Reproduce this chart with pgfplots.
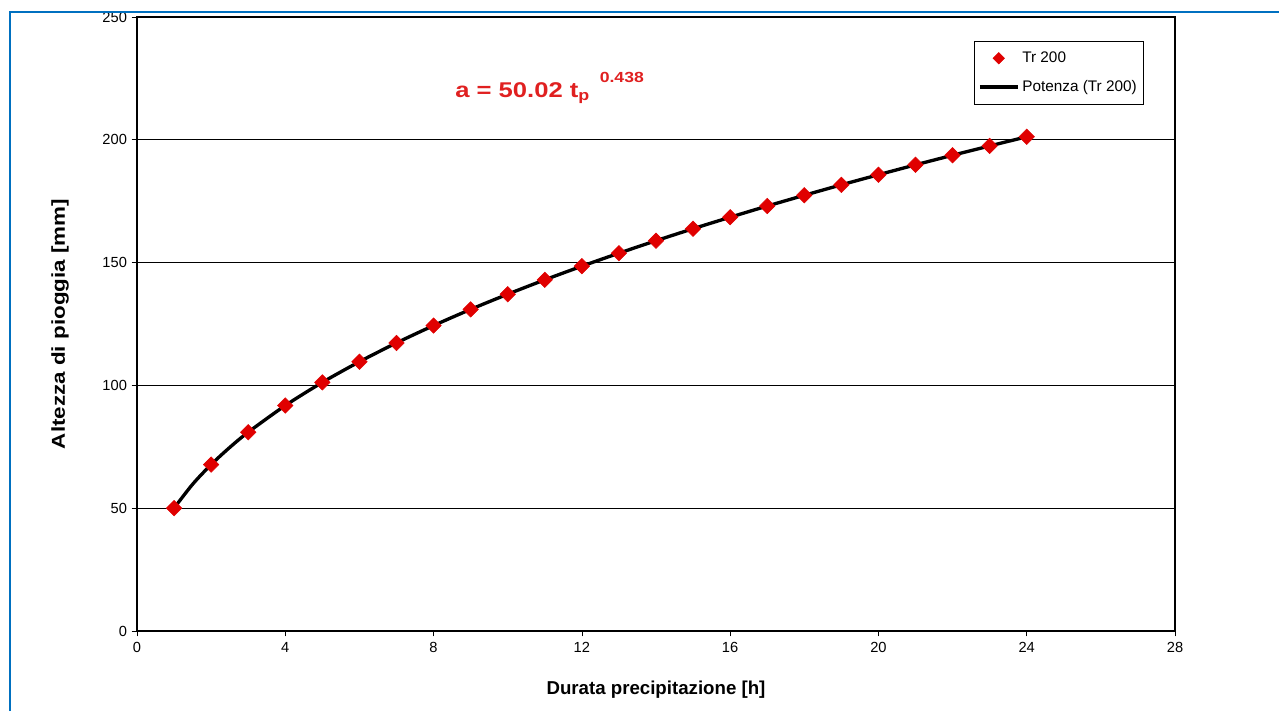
\documentclass[border=0pt]{standalone}
\usepackage{pgfplots}
\pgfplotsset{compat=1.18}
\usepackage{fontspec}
\setmainfont{Liberation Sans}
\definecolor{frameblue}{HTML}{0070C0}
\definecolor{mred}{HTML}{E00000}
\definecolor{tred}{HTML}{E02020}
\begin{document}
\begin{tikzpicture}[x=0.75pt,y=0.75pt]
\begin{axis}[
  scale only axis,
  width=778.5pt, height=460.5pt,
  xmin=0, xmax=28, ymin=0, ymax=250,
  xtick={0,4,...,28}, ytick={0,50,...,250},
  xtick pos=left, ytick pos=left,
  axis line style={line width=1.4pt},
  tick style={black, line width=0.5pt},
  tick align=outside, major tick length=4pt,
  ymajorgrids, grid style={black, line width=0.6pt},
  /pgf/number format/assume math mode=true,
  ticklabel style={font=\fontsize{11}{13}\selectfont},
  xticklabel style={yshift=-1pt},
  xlabel={\bfseries Durata precipitazione [h]},
  ylabel={\scalebox{1.2}[1]{\bfseries Altezza di pioggia [mm]}},
  x label style={at={(axis description cs:0.5,-0.096)},anchor=center,font=\fontsize{14}{16}\selectfont},
  y label style={at={(axis description cs:-0.074,0.5)},anchor=center,font=\fontsize{14}{16}\selectfont},
  legend style={at={(axis description cs:0.806,0.961)},anchor=north west,
    draw=black, line width=0.5pt, font=\fontsize{11.5}{13}\selectfont,
    inner xsep=3pt, inner ysep=6pt, row sep=8pt,
    legend cell align=left},
  clip=false,
]
\addplot[only marks, mark=square*, mark options={rotate=45}, mark size=4.1pt, color=mred,
  legend image code/.code={\draw[mark size=3pt,mark repeat=2,mark phase=2] plot coordinates {(0cm,0cm)(0.5cm,0cm)(1cm,0cm)};}]
coordinates {
(1,50.02)(2,67.76)(3,80.94)(4,91.80)(5,101.23)(6,109.64)(7,117.30)(8,124.36)
(9,130.95)(10,137.13)(11,142.98)(12,148.53)(13,153.83)(14,158.91)(15,163.79)
(16,168.47)(17,173.02)(18,177.40)(19,181.66)(20,185.77)(21,189.80)(22,193.70)
(23,197.50)(24,201.22)};
\addlegendentry{Tr 200}
\addplot[black, line width=2.5pt, smooth, no marks,
  legend image code/.code={\draw[line width=2.8pt] (0cm,0cm) -- (1cm,0cm);}]
coordinates {
(1,50.02)(1.5,59.74)(2,67.76)(2.5,74.72)(3,80.94)(4,91.80)(5,101.23)(6,109.64)(7,117.30)(8,124.36)
(9,130.95)(10,137.13)(11,142.98)(12,148.53)(13,153.83)(14,158.91)(15,163.79)
(16,168.47)(17,173.02)(18,177.40)(19,181.66)(20,185.77)(21,189.80)(22,193.70)
(23,197.50)(24,201.22)};
\addlegendentry{Potenza (Tr 200)}
\node[text=tred, font=\bfseries\fontsize{16}{18}\selectfont, anchor=base west, inner sep=0pt]
  at (axis cs:8.58,217.4) {\scalebox{1.2}[1]{a = 50.02 t\textsubscript{p}\hspace{6pt}\raisebox{1.3ex}{\fontsize{11}{12}\selectfont 0.438}}};
\end{axis}
\draw[frameblue, line width=2.2pt] (-127,-80) -- (-127,619) -- (1142,619);
\pgfresetboundingbox
\path (-137,-80) rectangle (1142,631);
\end{tikzpicture}
\end{document}
